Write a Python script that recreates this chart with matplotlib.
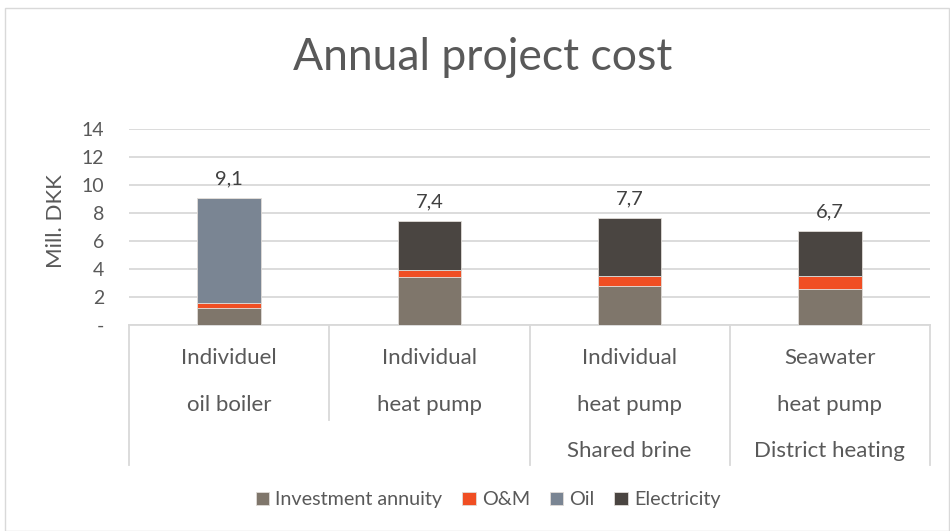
import matplotlib
matplotlib.use("Agg")
import matplotlib.pyplot as plt
import matplotlib.transforms as mtransforms
from matplotlib.lines import Line2D
from matplotlib.patches import Rectangle
import numpy as np

plt.rcParams['font.family'] = ['Lato', 'DejaVu Sans']

# ---- data ----
cat_line1 = ["Individuel", "Individual", "Individual", "Seawater"]
cat_line2 = ["oil boiler", "heat pump", "heat pump", "heat pump"]
cat_line3 = ["", "", "Shared brine", "District heating"]
series_names = ["Investment annuity", "O&M", "Oil", "Electricity"]
investment = [1.2, 3.4, 2.8, 2.55]
om = [0.35, 0.53, 0.72, 0.95]
oil = [7.5, 0.0, 0.0, 0.0]
electricity = [0.0, 3.47, 4.1, 3.2]
total_labels = [9.1, 7.4, 7.7, 6.7]
y_ticks = [0, 2, 4, 6, 8, 10, 12, 14]
y_ticklabels = ["-", "2", "4", "6", "8", "10", "12", "14"]

colors = ["#7f766b", "#f04e23", "#7a8593", "#4a4541"]
text_grey = "#595959"

W, H = 950, 531
fig = plt.figure(figsize=(W / 100, H / 100), dpi=100)

# outer chart border
fig.patches.append(Rectangle((5 / W, 0), (W - 6) / W, 1 - 8 / H, transform=fig.transFigure,
                             fill=False, edgecolor="#d9d9d9", linewidth=1.0))

left, right = 129 / W, 930 / W
bottom, top = 1 - 325 / H, 1 - 129 / H
ax = fig.add_axes([left, bottom, right - left, top - bottom])

x = np.arange(len(cat_line1))
series = [investment, om, oil, electricity]
base = np.zeros(len(x))
for vals, name, c in zip(series, series_names, colors):
    ax.bar(x, vals, bottom=base, width=0.317, color=c, label=name,
           edgecolor="#e0dcd8", linewidth=0.6, zorder=3)
    base = base + np.array(vals)

for xi, tot, lab in zip(x, base, total_labels):
    ax.annotate(f"{lab:.1f}".replace(".", ","), (xi, tot), xytext=(0, 8),
                textcoords="offset points", ha="center", va="bottom",
                fontsize=14.5, color="#404040")

ax.set_xlim(-0.5, len(x) - 0.5)
ax.set_ylim(0, 14)
ax.set_yticks(y_ticks)
ax.set_yticklabels(y_ticklabels, fontsize=14, color=text_grey)
ax.set_xticks([])
ax.tick_params(axis="y", length=0, pad=18)
ax.yaxis.grid(True, color="#d9d9d9", linewidth=1.3, zorder=0)
ax.set_axisbelow(True)
for s in ["top", "right", "left"]:
    ax.spines[s].set_visible(False)
ax.spines["bottom"].set_color("#d9d9d9")
ax.spines["bottom"].set_linewidth(1.3)
fig.text(56 / W, 1 - 221 / H, "Mill. DKK", rotation=90, ha="center", va="center",
         fontsize=16, color=text_grey)

# multi-level category labels
trans = mtransforms.blended_transform_factory(ax.transData, fig.transFigure)
line_y = [1 - 358 / H, 1 - 405 / H, 1 - 451 / H]
for xi, l1, l2, l3 in zip(x, cat_line1, cat_line2, cat_line3):
    for txt, yy in zip([l1, l2, l3], line_y):
        if txt:
            fig.text(xi, yy, txt, transform=trans, ha="center", va="center",
                     fontsize=16, color=text_grey)
sep_bottoms = [465, 420, 465, 465, 465]
for i, sb in enumerate(sep_bottoms):
    xs = i - 0.5
    fig.add_artist(Line2D([xs, xs], [bottom, 1 - sb / H], transform=trans,
                          color="#d9d9d9", linewidth=1.3))

fig.text(483 / W, 1 - 58 / H, "Annual project cost", ha="center", va="center",
         fontsize=32, color=text_grey)

handles, labels = ax.get_legend_handles_labels()
fig.legend(handles, labels, loc="center", bbox_to_anchor=(488 / W, 1 - 500 / H),
           ncol=4, frameon=False, fontsize=14.2, handlelength=0.7, handleheight=0.7,
           handletextpad=0.3, columnspacing=1.0, labelcolor=text_grey)

fig.savefig("out.png", dpi=100)
